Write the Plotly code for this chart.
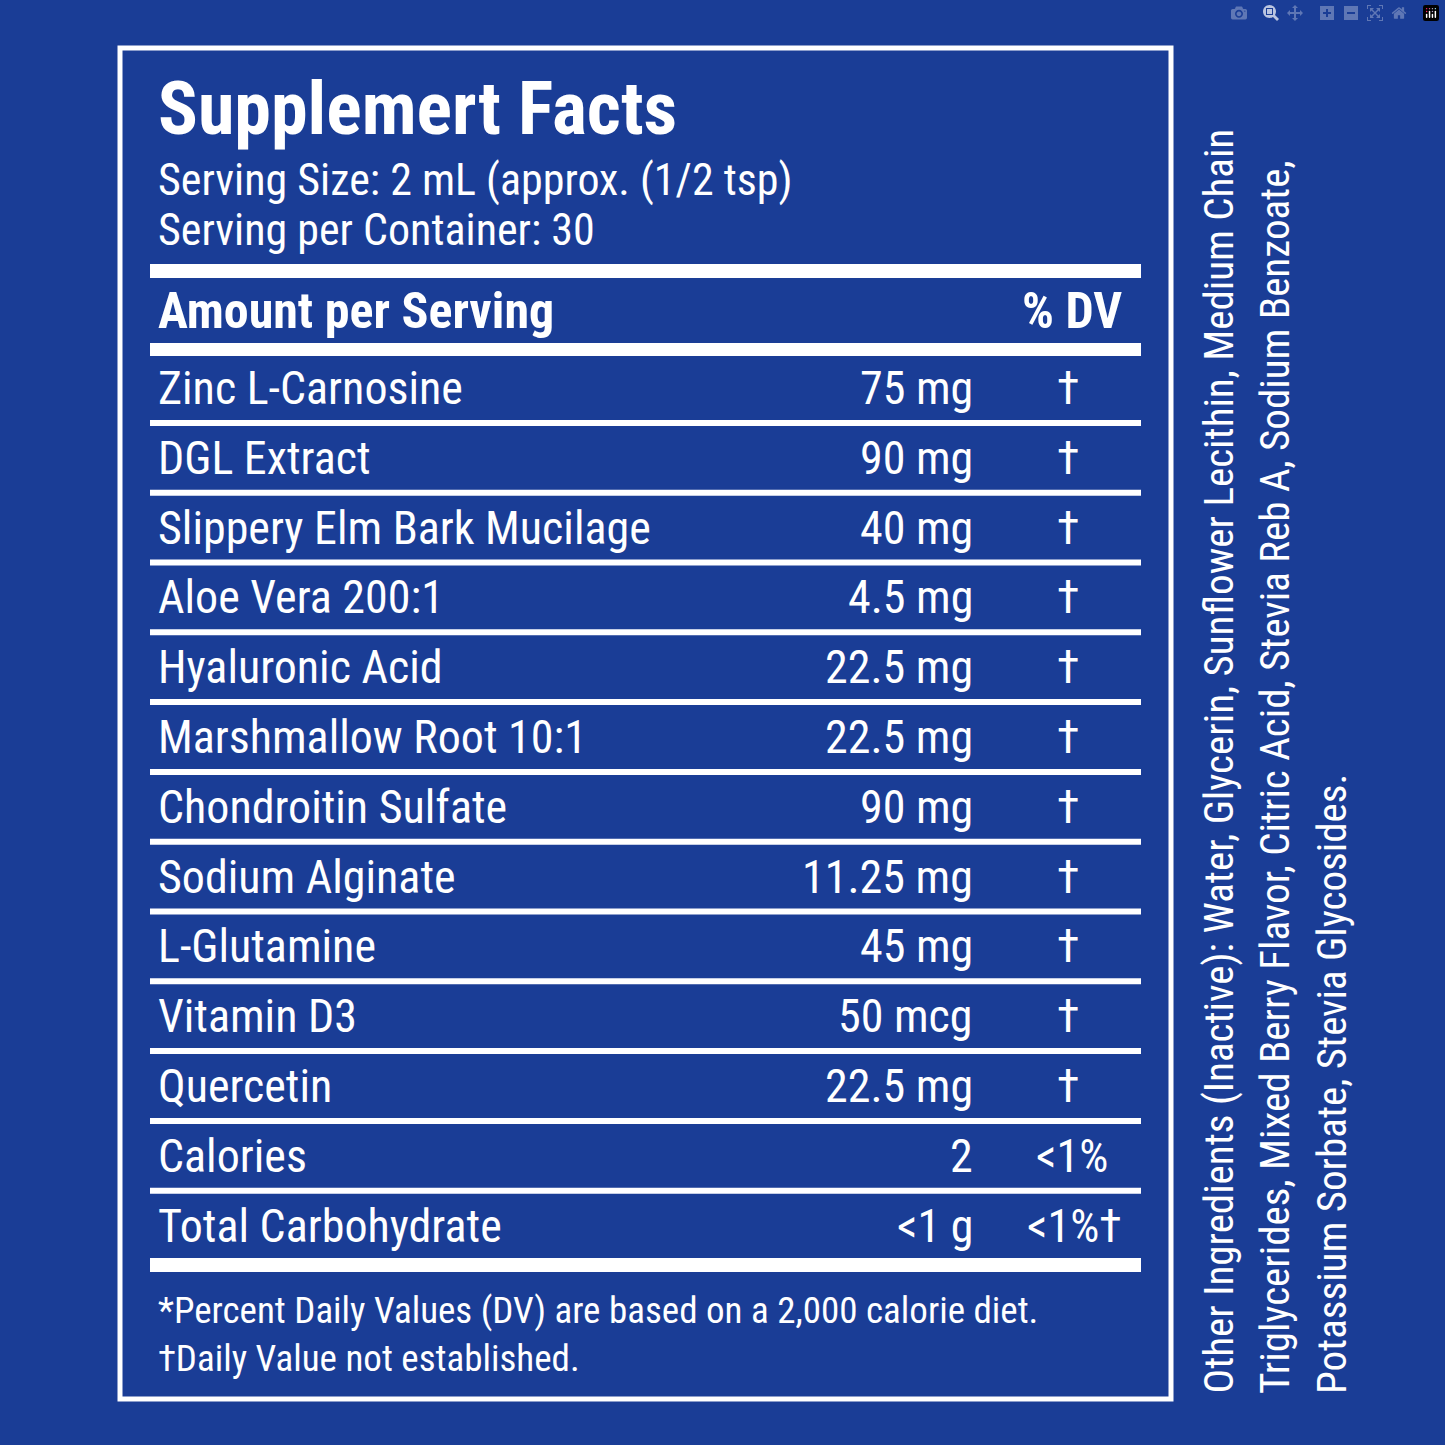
import plotly.graph_objects as go

names = ["Zinc L-Carnosine", "DGL Extract", "Slippery Elm Bark Mucilage", "Aloe Vera 200:1",
         "Hyaluronic Acid", "Marshmallow Root 10:1", "Chondroitin Sulfate", "Sodium Alginate",
         "L-Glutamine", "Vitamin D3", "Quercetin", "Calories", "Total Carbohydrate"]
amounts = ["75 mg", "90 mg", "40 mg", "4.5 mg", "22.5 mg", "22.5 mg", "90 mg", "11.25 mg",
           "45 mg", "50 mcg", "22.5 mg", "2", "<1 g"]
dv = ["†"] * 11 + ["<1%", "<1%†"]
other = ["Other Ingredients (Inactive): Water, Glycerin, Sunflower Lecithin, Medium Chain",
         "Triglycerides, Mixed Berry Flavor, Citric Acid, Stevia Reb A, Sodium Benzoate,",
         "Potassium Sorbate, Stevia Glycosides."]

BG = "#1a3d96"
W = "white"
FONT = "Liberation Sans Narrow, Roboto Condensed, Roboto, sans-serif"

fig = go.Figure()
shapes = []
ann = []
shapes.append(dict(type="rect", x0=120, x1=1171, y0=48, y1=1399, line=dict(color=W, width=5)))
shapes.append(dict(type="rect", x0=150, x1=1141, y0=264, y1=278, fillcolor=W, line_width=0))
shapes.append(dict(type="rect", x0=150, x1=1141, y0=343, y1=356, fillcolor=W, line_width=0))
shapes.append(dict(type="rect", x0=150, x1=1141, y0=1258, y1=1272, fillcolor=W, line_width=0))

ann.append(dict(x=156, y=108, text="<b>Supplemert Facts</b>", xanchor="left", yanchor="middle",
                font=dict(size=74, color=W, family=FONT)))
ann.append(dict(x=156, y=180, text="Serving Size: 2 mL (approx. (1/2 tsp)", xanchor="left", yanchor="middle",
                font=dict(size=44, color=W, family=FONT)))
ann.append(dict(x=156, y=230, text="Serving per Container: 30", xanchor="left", yanchor="middle",
                font=dict(size=44, color=W, family=FONT)))
ann.append(dict(x=156, y=311, text="<b>Amount per Serving</b>", xanchor="left", yanchor="middle",
                font=dict(size=50, color=W, family=FONT)))
ann.append(dict(x=1124, y=311, text="<b>% DV</b>", xanchor="right", yanchor="middle",
                font=dict(size=50, color=W, family=FONT)))

row_h = 69.8
for i, (n, a, d) in enumerate(zip(names, amounts, dv)):
    yc = 388 + i * row_h
    ann.append(dict(x=156, y=yc, text=n, xanchor="left", yanchor="middle",
                    font=dict(size=46, color=W, family=FONT)))
    ann.append(dict(x=975, y=yc, text=a, xanchor="right", yanchor="middle",
                    font=dict(size=46, color=W, family=FONT)))
    if d == "†":
        ann.append(dict(x=1068, y=yc, text=d, xanchor="center", yanchor="middle",
                        font=dict(size=46, color=W, family=FONT)))
    elif d == "<1%":
        ann.append(dict(x=1110, y=yc, text=d, xanchor="right", yanchor="middle",
                        font=dict(size=46, color=W, family=FONT)))
    else:
        ann.append(dict(x=1124, y=yc, text=d, xanchor="right", yanchor="middle",
                        font=dict(size=46, color=W, family=FONT)))
    if i < len(names) - 1:
        ys = yc + row_h / 2
        shapes.append(dict(type="rect", x0=150, x1=1141, y0=ys - 3, y1=ys + 3, fillcolor=W, line_width=0))

ann.append(dict(x=156, y=1310, text="*Percent Daily Values (DV) are based on a 2,000 calorie diet.",
                xanchor="left", yanchor="middle", font=dict(size=37, color=W, family=FONT)))
ann.append(dict(x=156, y=1358, text="†Daily Value not established.",
                xanchor="left", yanchor="middle", font=dict(size=37, color=W, family=FONT)))

for j, t in enumerate(other):
    ann.append(dict(x=1218 + j * 57, y=1396, text=t, textangle=-90, xanchor="center", yanchor="bottom",
                    font=dict(size=41, color=W, family=FONT)))

for a in ann:
    a.update(xref="x", yref="y", showarrow=False)

fig.update_layout(width=1445, height=1445, margin=dict(l=0, r=0, t=0, b=0),
                  paper_bgcolor=BG, plot_bgcolor=BG, shapes=shapes, annotations=ann,
                  showlegend=False)
fig.update_xaxes(range=[0, 1445], visible=False)
fig.update_yaxes(range=[1445, 0], visible=False)
fig.write_html("out.html", post_script="document.body.style.margin='0';document.body.style.background='#1a3d96';")
